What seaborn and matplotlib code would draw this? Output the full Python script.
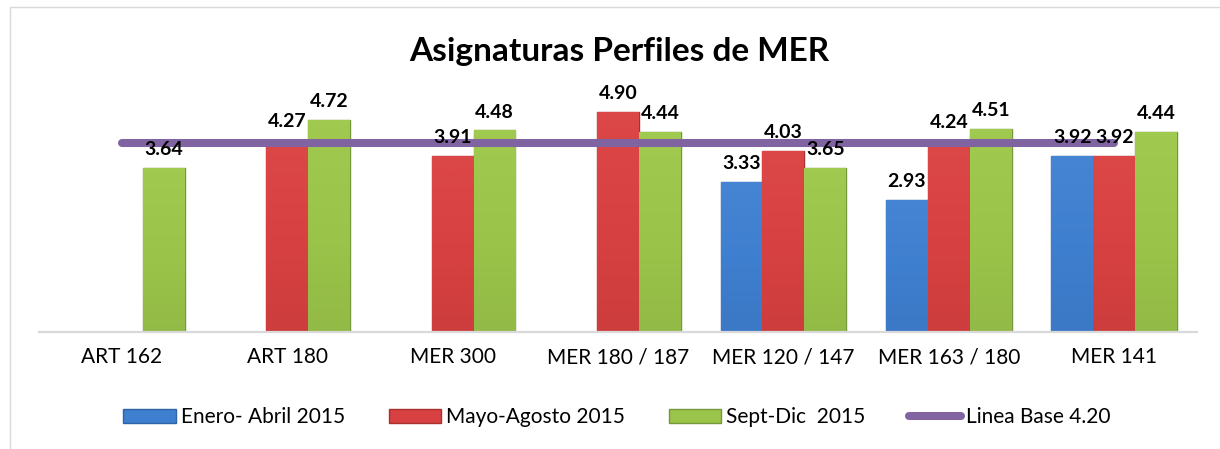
import numpy as np
import pandas as pd
import matplotlib
matplotlib.use('Agg')
import matplotlib.pyplot as plt
import seaborn as sns
from matplotlib.colors import LinearSegmentedColormap
from matplotlib.patches import Rectangle
from matplotlib.lines import Line2D

categorias = ['ART 162', 'ART 180', 'MER 300', 'MER 180 / 187', 'MER 120 / 147', 'MER 163 / 180', 'MER 141']
periodos = ['Enero- Abril 2015', 'Mayo-Agosto 2015', 'Sept-Dic  2015']
enero = [np.nan, np.nan, np.nan, np.nan, 3.33, 2.93, 3.92]
mayo = [np.nan, 4.27, 3.91, 4.90, 4.03, 4.24, 3.92]
sept = [3.64, 4.72, 4.48, 4.44, 3.65, 4.51, 4.44]
linea_base = [4.20] * len(categorias)
linea_label = 'Linea Base 4.20'

colores = ['#3f7fcf', '#d84141', '#9bc54a']
claros = ['#5b97e0', '#e85a5a', '#b0d860']
oscuros = ['#2e63a6', '#aa3030', '#76973a']
morado = '#8064a2'

sns.set_theme(style='white')
plt.rcParams['font.family'] = ['Lato', 'DejaVu Sans']
plt.rcParams['text.color'] = 'black'

df = pd.DataFrame({
    'Asignatura': categorias * 3,
    'Periodo': [p for p in periodos for _ in categorias],
    'Valor': enero + mayo + sept,
})

fig = plt.figure(figsize=(12.2, 4.49), dpi=100)
ax = fig.add_axes([39 / 1220, 0.2606, 1158 / 1220, 0.5512])

sns.barplot(data=df, x='Asignatura', y='Valor', hue='Periodo', hue_order=periodos,
            order=categorias, palette=colores, width=0.76, saturation=1, ax=ax,
            errorbar=None, dodge=True)

# soft gradient, a bit like the excel bars
for cont, c_claro, c_base, c_osc in zip(ax.containers, claros, colores, oscuros):
    cmap = LinearSegmentedColormap.from_list('g', [c_osc, c_base, c_claro])
    for bar in cont:
        h = bar.get_height()
        if np.isnan(h):
            continue
        bar.set_edgecolor(c_osc)
        bar.set_linewidth(1.0)
        x0, w = bar.get_x(), bar.get_width()
        grad = np.linspace(0.62, 0.38, 128)[:, None]
        im = ax.imshow(grad, extent=[x0, x0 + w, 0, h], cmap=cmap, vmin=0, vmax=1,
                       aspect='auto', origin='upper', zorder=bar.get_zorder() + 0.1)
        im.set_clip_path(bar)
    ax.bar_label(cont, fmt='%.2f', padding=7, fontsize=14, fontweight='bold',
                 color='black', zorder=6)

ax.plot(range(len(categorias)), linea_base, color=morado, lw=5.8,
        solid_capstyle='round', zorder=4)

ax.set_xlim(-0.5, len(categorias) - 0.5)
ax.set_ylim(0, 5.5)
ax.set_xlabel('')
ax.set_ylabel('')
ax.set_yticks([])
ax.tick_params(axis='x', length=0, pad=11, labelsize=15, colors='black')
for s in ['top', 'right', 'left']:
    ax.spines[s].set_visible(False)
ax.spines['bottom'].set_color('#d9d9d9')
ax.spines['bottom'].set_linewidth(1.6)

handles, labels = ax.get_legend_handles_labels()
ax.get_legend().remove()
for hnd, c_osc in zip(handles, oscuros):
    hnd.set_edgecolor(c_osc)
handles = handles[:3] + [Line2D([0], [0], color=morado, lw=5.8, solid_capstyle='round')]
labels = labels[:3] + [linea_label]
fig.legend(handles, labels, loc='center', bbox_to_anchor=(617 / 1220, 0.0713), ncol=4,
           frameon=False, fontsize=15, handlelength=2.5, handleheight=0.67,
           handletextpad=0.25, columnspacing=2.1)

fig.text(619 / 1220, 1 - 51 / 449, 'Asignaturas Perfiles de MER', ha='center', va='center',
         fontsize=24, fontweight='bold')

fig.add_artist(Rectangle((10 / 1220, -0.1), 1.2, (449 - 7) / 449 + 0.1,
                         transform=fig.transFigure, fill=False, ec='#d9d9d9', lw=1))

fig.savefig('out.png', dpi=100)
